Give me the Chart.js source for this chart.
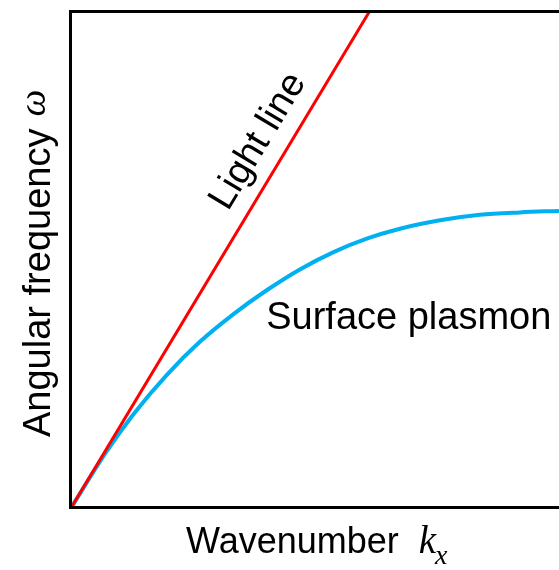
<!DOCTYPE html>
<html>
<head>
<meta charset="utf-8">
<script src="https://cdn.jsdelivr.net/npm/chart.js@4.4.1/dist/chart.umd.min.js"></script>
<style>
  html, body { margin: 0; padding: 0; background: #fff; overflow: hidden; }
  #wrap { width: 559px; height: 570px; }
</style>
</head>
<body>
<div id="wrap"><canvas id="dispersionChart" width="559" height="570"></canvas></div>
<script>
// light line: omega = c * k
const lightK = [0, 6.11];
const lightW = [0, 10];

// surface plasmon dispersion
const spK = [0, 0.73, 1.28, 1.96, 2.64, 3.33, 4.01, 4.69, 5.38, 6.06, 6.74, 7.56, 8.38, 9.2, 10];
const spW = [0, 1.14, 1.89, 2.68, 3.35, 3.91, 4.39, 4.81, 5.16, 5.43, 5.63, 5.80, 5.91, 5.96, 5.99];

const xTitle = 'Wavenumber';
const yTitle = 'Angular frequency';

function toPoints(xs, ys) {
    return xs.map((x, i) => ({ x: x, y: ys[i] }));
}

const sans = '"Liberation Sans", Arial, sans-serif';
const serif = '"Liberation Serif", "Times New Roman", serif';

// frame (left, top, bottom) + axis titles + inline labels
const decorations = {
    id: 'decorations',
    afterDraw(chart) {
        const c = chart.ctx;
        const a = chart.chartArea;
        const xs = chart.scales.x, ys = chart.scales.y;
        c.save();

        // frame
        c.strokeStyle = '#000';
        c.lineWidth = 3;
        c.lineCap = 'square';
        c.beginPath();
        c.moveTo(a.right + 5, a.top - 0.5);
        c.lineTo(a.left - 0.5, a.top - 0.5);
        c.lineTo(a.left - 0.5, a.bottom - 0.5);
        c.lineTo(a.right + 5, a.bottom - 0.5);
        c.stroke();

        c.fillStyle = '#000';
        c.textBaseline = 'alphabetic';

        // x title
        c.font = '36px ' + sans;
        c.textAlign = 'left';
        let x0 = 186, yb = 553;
        c.fillText(xTitle, x0, yb);
        let w = c.measureText(xTitle).width + 20;
        c.font = 'italic 39px ' + serif;
        c.fillText('k', x0 + w, yb);
        let wk = c.measureText('k').width;
        c.font = 'italic 28px ' + serif;
        c.fillText('x', x0 + w + wk - 1, yb + 11);

        // y title
        c.save();
        c.translate(50, 437);
        c.rotate(-Math.PI / 2);
        c.font = '38px ' + sans;
        c.fillText(yTitle, 0, 0);
        w = c.measureText(yTitle).width + 12;
        c.font = 'italic 38px ' + serif;
        c.fillText('\u03c9', w, -5);
        c.restore();

        // Light line label
        c.save();
        c.translate(xs.getPixelForValue(4.02), ys.getPixelForValue(7.28));
        c.rotate(-59 * Math.PI / 180);
        c.font = '38px ' + sans;
        c.textAlign = 'center';
        c.fillText('Light line', 0, 0);
        c.restore();

        // Surface plasmon label
        c.font = '38px ' + sans;
        c.textAlign = 'left';
        c.fillText('Surface plasmon', xs.getPixelForValue(4.0), ys.getPixelForValue(3.6));

        c.restore();
    }
};

const ctx = document.getElementById('dispersionChart').getContext('2d');
new Chart(ctx, {
    type: 'line',
    data: {
        datasets: [{
            label: 'Light line',
            data: toPoints(lightK, lightW),
            borderColor: '#ff0000',
            borderWidth: 3,
            pointRadius: 0,
            fill: false
        }, {
            label: 'Surface plasmon',
            data: toPoints(spK, spW),
            borderColor: '#00b0f0',
            borderWidth: 4,
            pointRadius: 0,
            cubicInterpolationMode: 'monotone',
            fill: false
        }]
    },
    options: {
        responsive: false,
        animation: false,
        layout: {
            padding: { left: 71, top: 12, right: 0, bottom: 62 }
        },
        plugins: {
            legend: { display: false },
            tooltip: { enabled: false }
        },
        scales: {
            x: { type: 'linear', min: 0, max: 10, display: false },
            y: { type: 'linear', min: 0, max: 10, display: false }
        }
    },
    plugins: [decorations]
});
</script>
</body>
</html>
